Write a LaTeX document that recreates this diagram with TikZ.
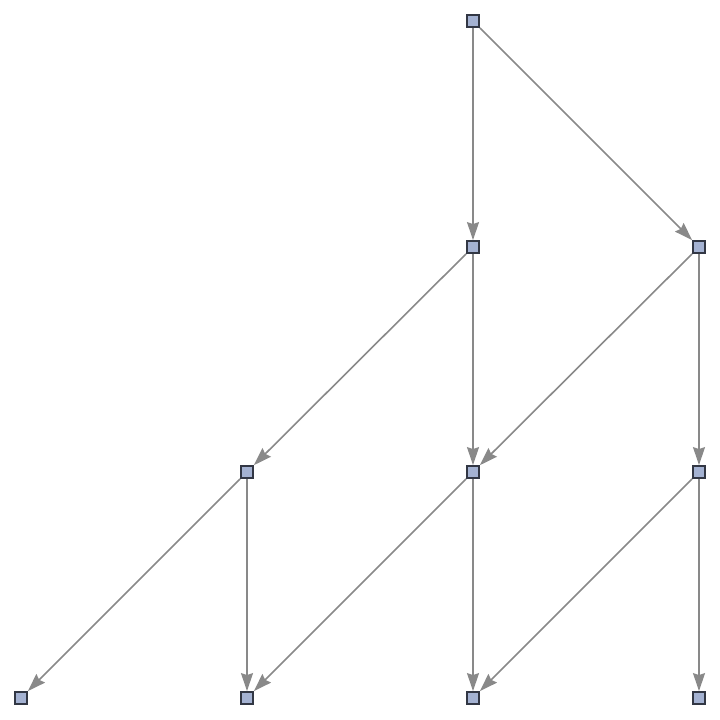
\documentclass[tikz,border=0pt]{standalone}
\usetikzlibrary{arrows.meta}
\definecolor{nodefill}{RGB}{164,178,210}
\definecolor{nodeborder}{RGB}{50,55,68}
\definecolor{edgecol}{RGB}{137,137,137}
\begin{document}
\begin{tikzpicture}[x=1pt,y=-1pt,
  vtx/.style={draw=nodeborder,fill=nodefill,line width=1.8pt,minimum size=12pt,inner sep=0pt,rectangle},
  edge/.style={draw=edgecol,line width=1.6pt,-{Stealth[length=18pt,width=12pt,inset=2pt]}}]
\useasboundingbox (0,0) rectangle (720,720);
\node[vtx] (a) at (473,21) {};
\node[vtx] (b) at (473,247) {};
\node[vtx] (c) at (699,247) {};
\node[vtx] (d) at (247,472) {};
\node[vtx] (e) at (473,472) {};
\node[vtx] (f) at (699,472) {};
\node[vtx] (g) at (21,698) {};
\node[vtx] (h) at (247,698) {};
\node[vtx] (i) at (473,698) {};
\node[vtx] (j) at (699,698) {};
\draw[edge] (a) -- (b);
\draw[edge] (a) -- (c);
\draw[edge] (b) -- (d);
\draw[edge] (b) -- (e);
\draw[edge] (c) -- (e);
\draw[edge] (c) -- (f);
\draw[edge] (d) -- (g);
\draw[edge] (d) -- (h);
\draw[edge] (e) -- (h);
\draw[edge] (e) -- (i);
\draw[edge] (f) -- (i);
\draw[edge] (f) -- (j);
\end{tikzpicture}
\end{document}
